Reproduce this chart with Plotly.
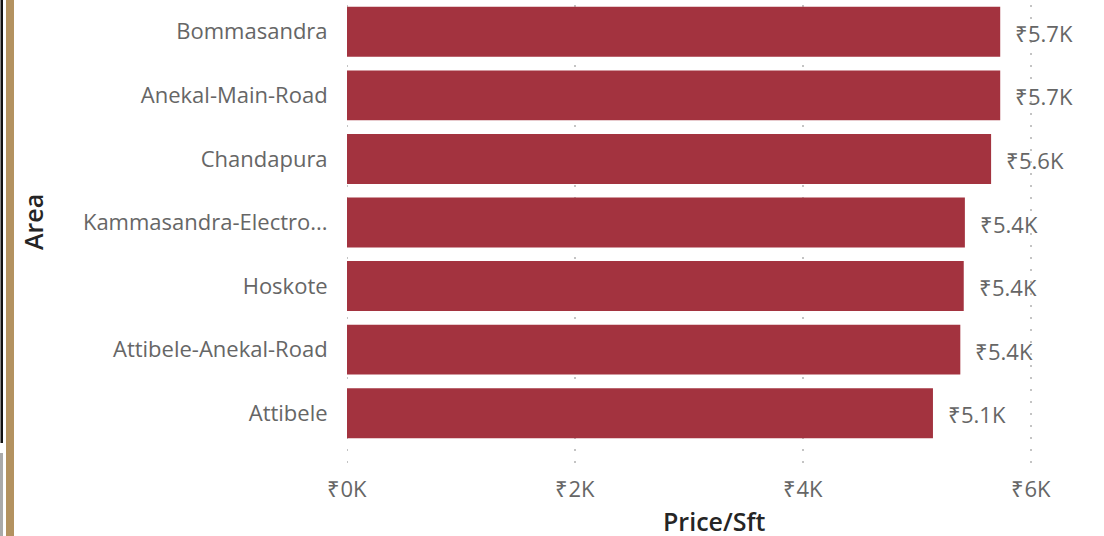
import plotly.graph_objects as go

areas = ["Attibele", "Attibele-Anekal-Road", "Hoskote", "Kammasandra-Electronic-City",
         "Chandapura", "Anekal-Main-Road", "Bommasandra"]
area_labels = ["Attibele", "Attibele-Anekal-Road", "Hoskote", "Kammasandra-Electro...",
               "Chandapura", "Anekal-Main-Road", "Bommasandra"]
price_per_sft = [5140, 5380, 5410, 5420, 5650, 5730, 5730]
label_texts = ["₹5.1K", "₹5.4K", "₹5.4K", "₹5.4K", "₹5.6K", "₹5.7K", "₹5.7K"]
x_tickvals = [0, 2000, 4000, 6000]
x_ticktext = ["₹0K", "₹2K", "₹4K", "₹6K"]

FONT = "Open Sans"
W, H = 1104, 536
L, R, T, B = 347, 23, 0, 91
pw = W - L - R
ph = H - T - B

def px_x(p):
    return (p - L) / pw

def px_y(p):
    return 1 - (p - T) / ph

fig = go.Figure()
fig.add_trace(go.Bar(
    y=areas, x=price_per_sft, orientation="h",
    marker=dict(color="#A3333F", line=dict(width=0)),
    width=0.785,
    hoverinfo="skip",
))

annotations = []
for a, v, t in zip(areas, price_per_sft, label_texts):
    annotations.append(dict(x=v, y=a, xref="x", yref="y", text=t, showarrow=False,
                            xanchor="left", yanchor="middle", xshift=13, yshift=-1,
                            font=dict(family=FONT, size=22, color="#666666")))
annotations.append(dict(x=px_x(714), y=px_y(521), xref="paper", yref="paper",
                        text="Price/Sft", showarrow=False, xanchor="center", yanchor="middle",
                        font=dict(family=FONT, size=25, color="#252525", weight=600)))
annotations.append(dict(x=px_x(33), y=px_y(222), xref="paper", yref="paper",
                        text="Area", showarrow=False, textangle=-90,
                        xanchor="center", yanchor="middle",
                        font=dict(family=FONT, size=25, color="#252525", weight=600)))

shapes = []
for v in x_tickvals:
    shapes.append(dict(type="line", xref="x", yref="paper", x0=v, x1=v,
                       y0=px_y(463), y1=1,
                       line=dict(color="#C4C4C4", width=2, dash="2px,10px"),
                       layer="below"))
# page decorations on left edge
shapes.append(dict(type="rect", xref="paper", yref="paper", x0=px_x(6), x1=px_x(14),
                   y0=px_y(536), y1=px_y(0), fillcolor="#B39260", line=dict(width=0)))
shapes.append(dict(type="rect", xref="paper", yref="paper", x0=px_x(0), x1=px_x(3),
                   y0=px_y(536), y1=px_y(453), fillcolor="#AAAAAA", line=dict(width=0)))
shapes.append(dict(type="rect", xref="paper", yref="paper", x0=px_x(0.5), x1=px_x(3),
                   y0=px_y(443), y1=px_y(0), fillcolor="#111111", line=dict(width=0)))

fig.update_layout(
    width=W, height=H,
    margin=dict(l=L, r=R, t=T, b=B, pad=0),
    paper_bgcolor="white", plot_bgcolor="white",
    showlegend=False,
    font=dict(family=FONT, color="#666666"),
    shapes=shapes,
    annotations=annotations,
    xaxis=dict(
        range=[0, (W - R - L) / 114 * 1000],
        tickvals=x_tickvals, ticktext=x_ticktext,
        showgrid=False, zeroline=False, showline=False, automargin=False,
        ticks="outside", ticklen=25, tickcolor="rgba(0,0,0,0)",
        tickfont=dict(family=FONT, size=22, color="#666666"),
    ),
    yaxis=dict(
        categoryorder="array", categoryarray=areas,
        tickvals=areas, ticktext=area_labels,
        range=[-0.5, 6.5],
        showgrid=False, zeroline=False, showline=False, automargin=False,
        ticks="outside", ticklen=14, tickcolor="rgba(0,0,0,0)",
        tickfont=dict(family=FONT, size=22, color="#666666"),
    ),
)

fig.write_html("out.html", config={"displayModeBar": False},
               post_script="document.body.style.margin='0px';")
